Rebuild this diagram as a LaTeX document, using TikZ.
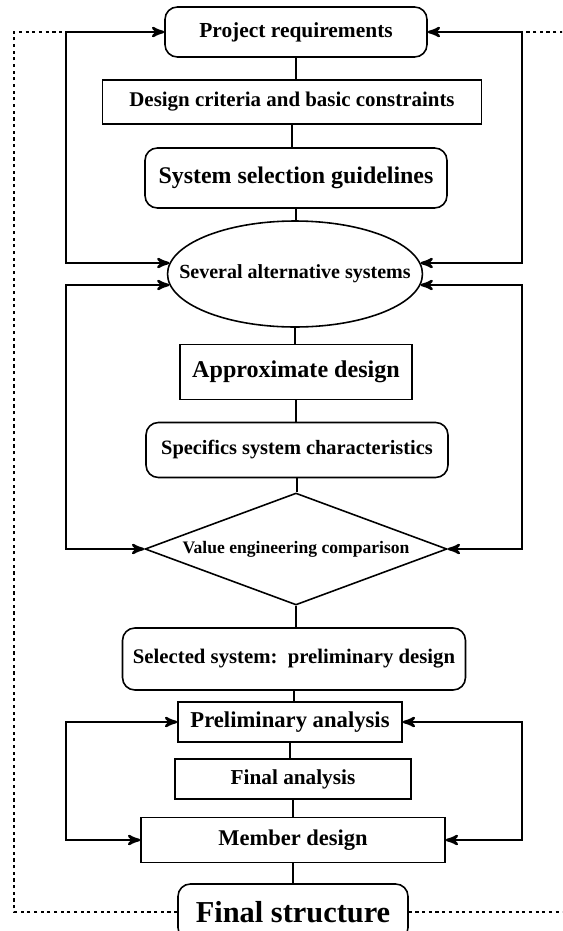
\documentclass[tikz,border=0pt]{standalone}
\usepackage{fontspec}
\setmainfont{Liberation Serif}
\usetikzlibrary{arrows, shapes.geometric, calc}

\tikzset{
  boxline/.style={draw, line width=0.9pt, inner sep=1pt, align=center},
  rbox/.style={boxline, rounded corners=7pt},
  sbox/.style={boxline},
  txt/.style={font=\bfseries\fontsize{#1}{#1}\selectfont},
  loopline/.style={line width=1.4pt, <->, >=stealth'},
  joinline/.style={line width=0.9pt},
  backline/.style={line width=1.5pt, dash pattern=on 1.8pt off 2pt},
}

\begin{document}
\begin{tikzpicture}[x=0.02cm, y=-0.02cm]
\useasboundingbox (0,0) rectangle (562,931);
\clip (0,0) rectangle (562,931);
    % main column
    \node[rbox, txt=12.2, minimum width=5.24cm, minimum height=1cm] (proj) at (296,32) {Project requirements};
    \node[sbox, txt=11.9, minimum width=7.58cm, minimum height=0.88cm] (crit) at (292,102) {Design criteria and basic constraints};
    \node[rbox, txt=13.6, minimum width=6.04cm, minimum height=1.2cm] (guide) at (296,178) {System selection guidelines};
    \node[boxline, ellipse, inner xsep=-16pt, inner ysep=0pt, txt=11.4, minimum width=5.1cm, minimum height=2.12cm] (alt) at (295,274) {Several alternative systems};
    \node[sbox, txt=13.7, minimum width=4.64cm, minimum height=1.1cm] (approx) at (296,372) {Approximate design};
    \node[rbox, txt=11.6, minimum width=6.04cm, minimum height=1.1cm] (spec) at (297,450) {Specifics system characteristics};
    \node[boxline, diamond, aspect=2.7, inner sep=0pt, txt=10, minimum width=6.04cm, minimum height=2.24cm] (value) at (296,549) {Value engineering comparison};
    \node[rbox, txt=11.8, minimum width=6.86cm, minimum height=1.24cm] (sel) at (294,659) {Selected system:\, preliminary design};
    \node[sbox, txt=12.9, minimum width=4.48cm, minimum height=0.8cm] (prelim) at (290,722) {Preliminary analysis};
    \node[sbox, txt=12.1, minimum width=4.72cm, minimum height=0.8cm] (fana) at (293,779) {Final analysis};
    \node[sbox, txt=12.8, minimum width=6.08cm, minimum height=0.9cm] (member) at (293,840) {Member design};
    \node[rbox, txt=17.3, minimum width=4.6cm, minimum height=1.12cm] (fin) at (293,912) {Final structure};

    % joins
    \foreach \a/\b in {proj/crit, crit/guide, guide/alt, alt/approx, approx/spec, spec/value, value/sel, sel/prelim, prelim/fana, fana/member, member/fin}
        \draw[joinline] (\a.south) -- (\a.south |- \b.north);

    % feedback loops
    \coordinate (lx) at (66,0);
    \coordinate (rx) at (522,0);
    \draw[loopline] (proj.west) -| (lx |- alt.175) -- (alt.175);
    \draw[loopline] (proj.east) -| (rx |- alt.5) -- (alt.5);
    \draw[loopline] (alt.185) -- (lx |- alt.185) |- (value.west);
    \draw[loopline] (alt.355) -- (rx |- alt.355) |- (value.east);
    \draw[loopline] (prelim.west) -| (lx |- member.west) -- (member.west);
    \draw[loopline] (prelim.east) -| (rx |- member.east) -- (member.east);

    % back to the start
    \coordinate (dl) at (14,32);
    \coordinate (dr) at (580,32);
    \draw[backline] (fin.west) -| (dl) -- (lx |- proj.west);
    \draw[backline] (fin.east) -| (dr) -- (rx |- proj.east);
\end{tikzpicture}
\end{document}
